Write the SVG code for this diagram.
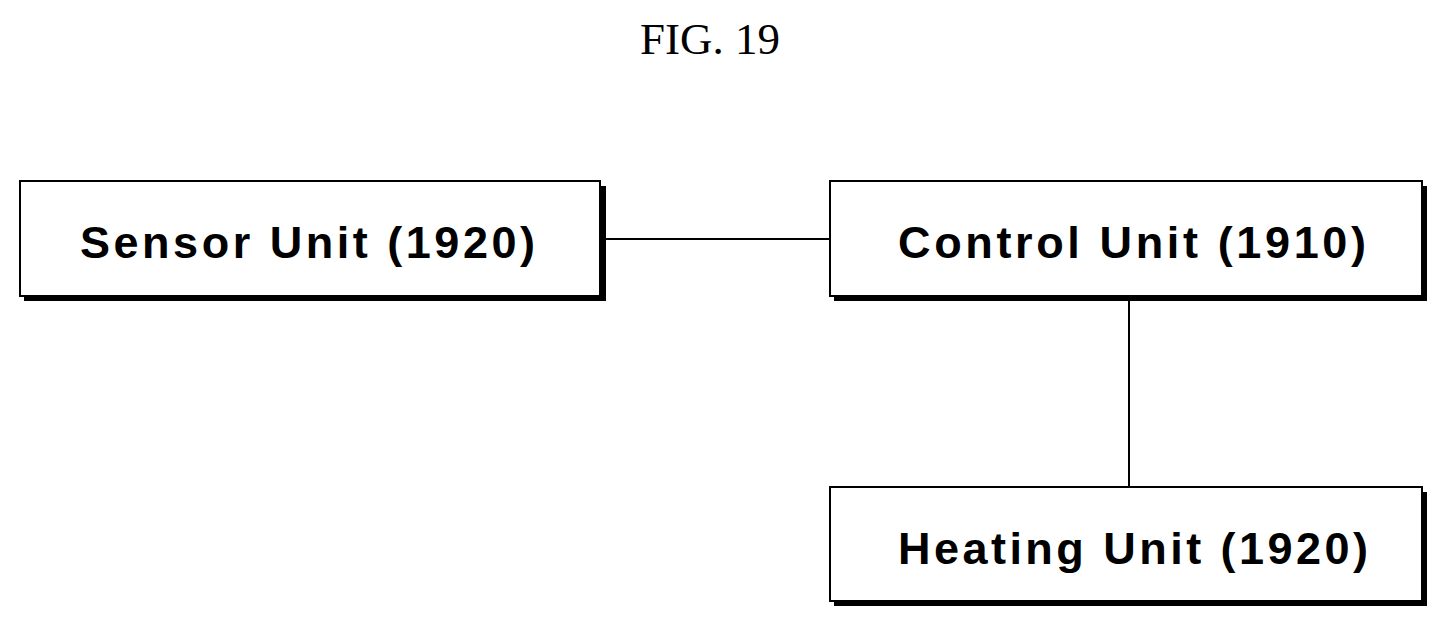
<svg xmlns="http://www.w3.org/2000/svg" width="1450" height="629" viewBox="0 0 1450 629">
<style>
.box{fill:#fff;stroke:#000;stroke-width:2}
.sh{fill:#000}
.lbl{font-family:"Liberation Sans",Arial,sans-serif;font-weight:bold;font-size:45px;fill:#000}
.ln{stroke:#000;stroke-width:2;fill:none}
</style>
<rect width="1450" height="629" fill="#fff"/>
<text x="710" y="54" text-anchor="middle" font-family="Liberation Serif,serif" font-size="45">FIG. 19</text>
<g id="connectors">
<line class="ln" x1="600" y1="239" x2="830" y2="239"/>
<line class="ln" x1="1129" y1="296" x2="1129" y2="487"/>
</g>
<g id="sensor">
<rect class="sh" x="24" y="186" width="582" height="115"/>
<rect class="box" x="20" y="181" width="580" height="115"/>
<text class="lbl" x="80" y="258" textLength="455" lengthAdjust="spacing">Sensor Unit (1920)</text>
</g>
<g id="control">
<rect class="sh" x="834" y="186" width="593" height="115"/>
<rect class="box" x="830" y="181" width="592" height="115"/>
<text class="lbl" x="898" y="258" textLength="468" lengthAdjust="spacing">Control Unit (1910)</text>
</g>
<g id="heating">
<rect class="sh" x="834" y="492" width="593" height="114"/>
<rect class="box" x="830" y="487" width="592" height="114"/>
<text class="lbl" x="898" y="564" textLength="470" lengthAdjust="spacing">Heating Unit (1920)</text>
</g>
</svg>
